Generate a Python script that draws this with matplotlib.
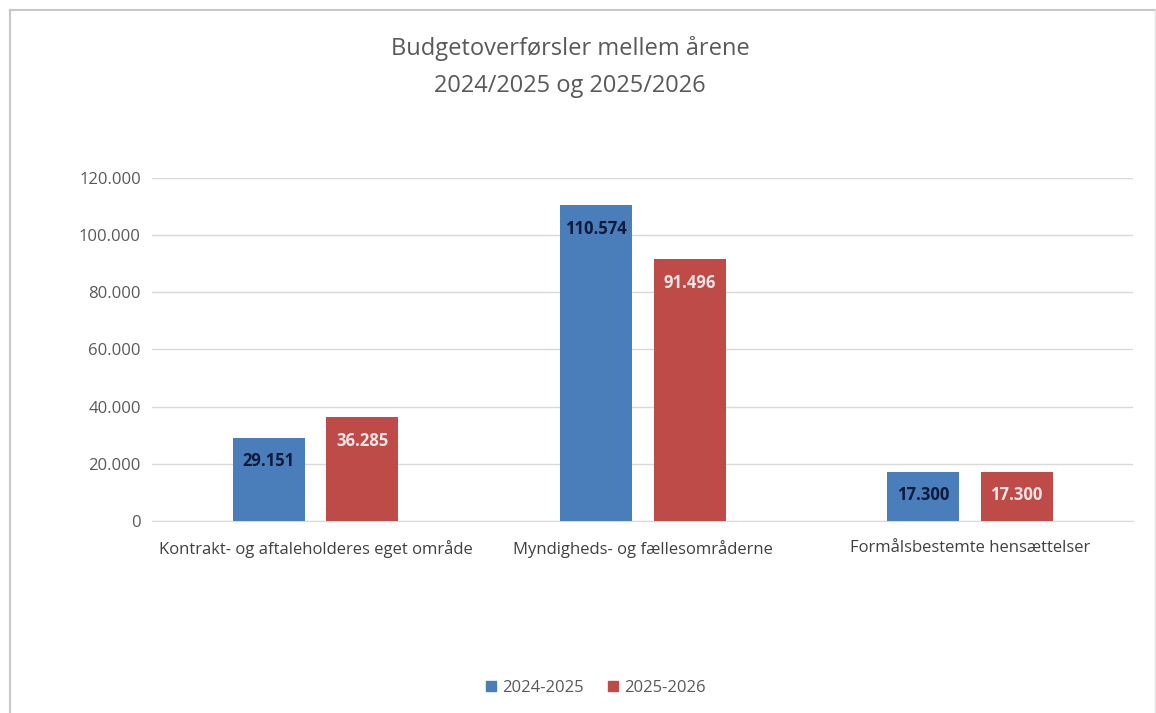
import numpy as np
import matplotlib.pyplot as plt
from matplotlib.lines import Line2D

plt.rcParams['font.family'] = ['Open Sans', 'DejaVu Sans']

# Data
categories = ["Kontrakt- og aftaleholderes eget område",
              "Myndigheds- og fællesområderne",
              "Formålsbestemte hensættelser"]
series_names = ["2024-2025", "2025-2026"]
values_2024 = [29151, 110574, 17300]
values_2025 = [36285, 91496, 17300]
yticks = [0, 20000, 40000, 60000, 80000, 100000, 120000]

blue = "#4a7ebb"
red = "#be4b48"

fig = plt.figure(figsize=(11.56, 7.13), dpi=100)
ax = fig.add_axes([0.1315, 0.2693, 0.849, 0.4811])

x = np.arange(len(categories))
w = 0.22
off = 0.143
b1 = ax.bar(x - off, values_2024, w, color=blue, label=series_names[0], zorder=3)
b2 = ax.bar(x + off, values_2025, w, color=red, label=series_names[1], zorder=3)


def fmt(v):
    return f"{v:,}".replace(",", ".")


for bars, col in ((b1, "#0d1a3a"), (b2, "#f7e4e4")):
    for rect in bars:
        h = rect.get_height()
        ax.annotate(fmt(h), (rect.get_x() + rect.get_width() / 2, h),
                    xytext=(0, -17), textcoords="offset points",
                    ha="center", va="center", fontsize=12,
                    fontweight="bold", color=col, zorder=4)

ax.set_xlim(-0.5, 2.5)
ax.set_ylim(0, 120000)
ax.set_yticks(yticks)
ax.set_yticklabels(["0" if t == 0 else fmt(t) for t in yticks],
                   color="#595959", fontsize=12)
ax.set_xticks(x)
ax.set_xticklabels(categories, color="#404040", fontsize=12)
ax.tick_params(axis="y", length=0, pad=8)
ax.tick_params(axis="x", length=0, pad=14)
ax.grid(axis="y", color="#d9d9d9", linewidth=1, zorder=0)
for s in ("top", "right", "left"):
    ax.spines[s].set_visible(False)
ax.spines["bottom"].set_color("#d9d9d9")

fig.text(0.493, 0.906, "Budgetoverførsler mellem årene\n2024/2025 og 2025/2026",
         ha="center", va="center", fontsize=17, color="#595959",
         linespacing=1.75)

handles = [Line2D([], [], marker="s", linestyle="none", markersize=7,
                  color=c) for c in (blue, red)]
fig.legend(handles, series_names, loc="center", bbox_to_anchor=(0.515, 0.035),
           ncol=2, frameon=False, fontsize=12, handlelength=0.7,
           handletextpad=0.3, columnspacing=1.4, labelcolor="#595959")

# outer frame
fig.add_artist(Line2D([10 / 1156, 1], [1 - 10 / 713, 1 - 10 / 713],
                      transform=fig.transFigure, color="#c8c8c8", lw=1.5))
fig.add_artist(Line2D([10 / 1156, 10 / 1156], [0, 1 - 10 / 713],
                      transform=fig.transFigure, color="#c8c8c8", lw=1.5))
fig.add_artist(Line2D([1155 / 1156, 1155 / 1156], [0, 1 - 10 / 713],
                      transform=fig.transFigure, color="#e0e0e0", lw=1))

fig.savefig("out.png", dpi=100, facecolor="white")
